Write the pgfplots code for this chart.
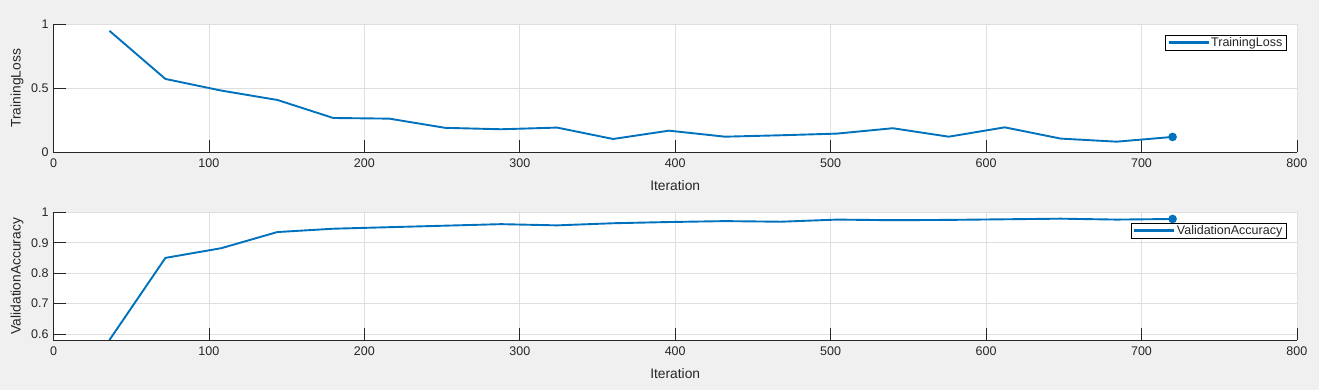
\documentclass[border=0pt]{standalone}
\usepackage{fontspec}
\setmainfont{Liberation Sans}
\usepackage{pgfplots}
\pgfplotsset{compat=1.18}
\definecolor{bg}{RGB}{240,240,240}
\definecolor{mblue}{RGB}{0,114,189}
\definecolor{txt}{RGB}{38,38,38}
\definecolor{gridc}{RGB}{223,223,223}
\pgfplotsset{
  mat/.style={
    scale only axis,
    width=1243.5pt,
    anchor=south west,
    axis background/.style={fill=white},
    xmin=0, xmax=800,
    xtick={0,100,...,800},
    axis x line*=bottom,
    axis y line*=left,
    axis line style={txt, line width=0.8pt},
    tick align=inside,
    major tick length=12.4pt,
    major tick style={txt, line width=0.8pt},
    grid=major,
    major grid style={gridc, line width=0.8pt},
    /pgf/number format/assume math mode=true,
    /pgf/number format/fixed,
    ticklabel style={font=\fontsize{12.5}{14}\selectfont, text=txt},
    xticklabel style={yshift=-3pt},
    yticklabel style={xshift=-1.5pt},
    label style={font=\fontsize{13.8}{16}\selectfont, text=txt},
    xlabel style={at={(axis description cs:0.5,0)}, yshift=-38.6pt, anchor=base},
    ylabel style={at={(axis description cs:-0.02935,0.5)}, anchor=center},
    legend style={at={(0.9912,0.916)}, anchor=north east, draw=black, fill=white,
      font=\fontsize{12.5}{14}\selectfont, text=txt, inner xsep=2pt, inner ysep=0.5pt,
      nodes={inner sep=1.5pt}},
    legend cell align=left,
    legend image code/.code={\draw[mblue, line width=2.2pt] (0pt,0pt) -- (40pt,0pt);},
    clip=true,
  },
  ser/.style={mblue, line width=1.9pt, mark=*, mark indices={20}, mark size=3.3pt, mark options={solid, fill=mblue, draw=mblue}},
}
\begin{document}
\begin{tikzpicture}
\path[use as bounding box, fill=bg] (0pt,0pt) rectangle (1319pt,390pt);
\begin{axis}[mat, at={(53.5pt,237.7pt)}, height=128pt,
  ymin=0, ymax=1, ytick={0,0.5,1}, ylabel={TrainingLoss}, xlabel={Iteration}]
\addplot[ser] coordinates {
(36,0.949) (72,0.573) (108,0.482) (144,0.409) (180,0.268) (216,0.263)
(252,0.191) (288,0.180) (324,0.193) (360,0.104) (396,0.169) (432,0.122)
(468,0.133) (504,0.146) (540,0.188) (576,0.122) (612,0.195) (648,0.107)
(684,0.083) (720,0.120)};
\addlegendentry{TrainingLoss}
\end{axis}
\begin{axis}[mat, at={(53.5pt,50pt)}, height=127.7pt,
  ymin=0.58, ymax=1, ytick={0.6,0.7,0.8,0.9,1}, ylabel={ValidationAccuracy}, xlabel={Iteration}]
\addplot[ser] coordinates {
(36,0.58) (72,0.850) (108,0.882) (144,0.935) (180,0.946) (216,0.951)
(252,0.956) (288,0.961) (324,0.957) (360,0.964) (396,0.968) (432,0.971)
(468,0.969) (504,0.976) (540,0.974) (576,0.975) (612,0.977) (648,0.979)
(684,0.976) (720,0.978)};
\addlegendentry{ValidationAccuracy}
\end{axis}
\end{tikzpicture}
\end{document}
